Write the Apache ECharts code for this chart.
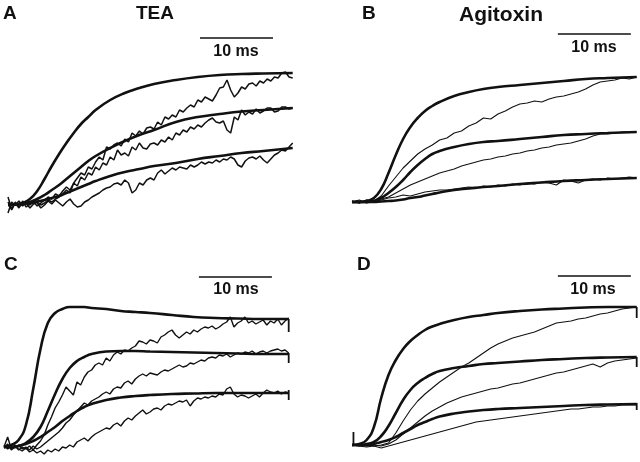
<!DOCTYPE html>
<html><head><meta charset="utf-8">
<script src="https://cdn.jsdelivr.net/npm/echarts@6/dist/echarts.min.js"></script>
<style>html,body{margin:0;padding:0;background:#fff}#c{width:640px;height:462px}</style>
</head><body><div id="c"></div><script>
// time samples (ms)
const tFit = [0,1,2,3,4,5,6,7,8,9,10,11,12,14,16,18,20,23,26,29,32,35,39];
const tHalf = [0,0.5,1,1.5,2,2.5,3,3.5,4,4.5,5,5.5,6,6.5,7,7.5,8,8.5,9,9.5,10,10.5,11,11.5,12,12.5,13,13.5,14,14.5,15,15.5,16,16.5,17,17.5,18,18.5,19,19.5,20,20.5,21,21.5,22,22.5,23,23.5,24,24.5,25,25.5,26,26.5,27,27.5,28,28.5,29,29.5,30,30.5,31,31.5,32,32.5,33,33.5,34,34.5,35,35.5,36,36.5,37,37.5,38,38.5,39];
const tOne = [0,1,2,3,4,5,6,7,8,9,10,11,12,13,14,15,16,17,18,19,20,21,22,23,24,25,26,27,28,29,30,31,32,33,34,35,36,37,38,39];

// Panel A (TEA) – model fits and recorded currents (arbitrary units)
const aFit1 = [0,0.5,2,6,14,26,39,51,62,72,81,88,95,105,112,117,121,125,128,130,131,131.5,132];
const aFit2 = [0,0.5,1.5,3,6,10,15,20,26,32,38,44,49,57,64,70,75,83,88,91,93.5,95,97];
const aFit3 = [0,0.5,1,2,3.5,5,7,9,12,15,18,21,24,29,33,36,39,42,46,49,52,54,57];
const aRec1 = [8,-4,3,-2,1,4,0,3,-1,2, 5,8,6,11,9,14,18,15,22,27, 32,30,38,36,43,48,45,58,56,60, 62,59,66,63,72,69,74,71,77,78, 76,83,80,88,86,90,88,95,93,97, 100,98,105,103,108,106,104,110,117,118, 125,115,108,112,118,116,121,122,119,124, 122,126,124,128,127,132,133,128,127];
const aRec2 = [-8,3,0,4,-1,2,-3,1,3,0, 2,5,3,6,8,11,15,12,22,19, 28,25,32,30,38,35,42,40,48,45, 55,50,52,49,58,55,62,57,56,61, 62,60,65,63,68,65,72,70,75,73, 78,76,80,78,82,85,87,83,82,84, 75,72,88,85,95,90,93,91,96,92, 94,97,97,93,94,98,98,96,97];
const aRec3 = [3,-5,2,-3,4,-2,1,5,2,-3, 0,4,1,5,2,-1,3,6,1,-2, -1,3,5,8,10,12,15,17,18,21, 22,20,25,22,12,15,22,20,25,27, 25,32,35,31,34,37,35,38,37,36, 40,38,40,43,41,43,42,45,43,46, 45,48,46,40,38,44,47,48,46,49, 45,42,46,50,52,55,54,58,62];

// Panel B (Agitoxin)
const bFit1 = [0,0,1,4,13,29,47,63,75,84,91,96,100,106,110,113,115,117,119,121,123,124,125];
const bFit2 = [0,0,0,1,4,9,15,22,30,37,43,48,51,55,58,60,61,63,65,67,68,69,70];
const bFit3 = [0,0,0,0,0.5,1,1.5,2.5,4,5,6.5,8,9.5,12,13.5,15,16,18,19.5,21,22,23,24];
const bRec1 = [1,-1,2,1,6,16,25,34,41,48,53,57,62,64,69,71,76,79,84,83,88,91,95,98,99,101,100,103,105,106,108,110,113,117,120,121,122,124,123,125];
const bRec2 = [0,2,-1,1,3,5,9,13,17,20,23,26,29,31,33,36,38,40,42,43,45,46,48,49,51,52,54,55,57,58,59,61,63,66,68,68,69,70,70,70];
const bRec3 = [1,-1,2,0,2,4,5,7,6,8,10,11,12,12,13,14,15,14,16,15,17,16,18,17,19,18,20,19,17,22,21,19,22,23,22,24,23,24,25,24];

// Panel C (TEA)
const cFit1 = [0,2,7,22,58,98,124,134,138,140,140,140,139,138,136,135,134,132,130,129,128.5,128,128];
const cFit2 = [0,0,1,4,10,20,36,53,68,79,86,90,93,95.5,96,96,95.5,95,94.5,94,93.5,93,93];
const cFit3 = [0,0,1,3,6,10,15,20,26,31,36,40,43,47,49.5,51,52,53,53.5,54,54,54,54];
const cRec1 = [0,10,-2,2,-3,0,-2,1,-3,2, 6,12,22,30,39,45,52,60,56,52, 65,62,70,75,77,82,84,82,89,86, 92,95,93,97,96,99,101,106,105,103, 107,106,104,110,112,115,117,112,109,112, 115,113,117,115,118,120,119,121,118,120, 123,125,130,120,124,126,130,124,126,123, 125,127,122,126,124,128,122,126,129];
const cRec2 = [2,-2,1,-1,2,-2,0,-3,1,-2, 0,3,6,9,12,15,19,24,27,32, 36,40,44,42,46,48,50,53,55,53, 58,60,59,64,66,63,68,71,73,71, 74,73,72,75,77,76,78,80,82,80, 81,84,83,85,87,86,89,90,89,92, 91,93,90,92,94,93,95,94,96,93, 95,96,94,96,97,98,96,97,94];
const cRec3 = [-1,3,-3,0,-2,-4,-1,-5,-3,-6, -4,-7,-3,-5,-2,-4,0,-1,2,0, 5,7,9,6,10,13,15,17,19,18, 22,24,21,26,29,27,31,34,37,33, 35,38,39,37,41,43,42,44,46,45, 47,41,46,49,48,50,49,51,50,53, 52,58,60,53,50,52,51,49,51,53, 50,54,57,55,54,56,53,55,54];
const cEndTicks = [[128,115],[94,84],[57,47]];

// Panel D (Agitoxin)
const dFit1 = [0,1,5,18,47,70,85,96,104,110,115,118.5,121,125,128,130,132,134,135.5,136.5,137.5,138,138];
const dFit2 = [0,0,1,3,9,19,32,45,55,62,67,71,74,77,79,81,82,83.5,85,86,87,87.5,88];
const dFit3 = [0,0,0,1,3,5,8,12,16,20,23,26,28.5,31.5,33.5,35,36,37,38,39,40,40.5,41];
const dRec1 = [0,-1,1,-1,0,2,12,24,35,44,51,57,63,68,73,78,82,87,92,97,101,104,107,109,111,113,116,119,122,123,124,126,127,129,131,132,134,136,137,138];
const dRec2 = [0,1,-1,0,-1,1,5,11,17,23,29,34,38,42,45,48,50,52,54,56,57,59,61,62,64,66,68,70,72,73,75,77,79,81,78,82,84,85,86,87];
const dRec3 = [0,-1,-2,-1,-3,-1,1,3,5,7,9,11,13,15,17,19,21,23,24,25,26,27,28,29,30,31,32,33,34,35,36,36,37,38,38,39,39,40,40,40];
const dEndTicks = [[138,127],[88,78],[42,35]];
const dStartTick = [13,0];

const panels = [
  {left:8,  top:25,  height:200, yMin:-20, yMax:180, fits:[aFit1,aFit2,aFit3], recs:[aRec1,aRec2,aRec3], tRec:tHalf, fitW:2.6, recW:1.5, bar:{t:26.3, amp:167}},
  {left:352,top:22,  height:200, yMin:-20, yMax:180, fits:[bFit1,bFit2,bFit3], recs:[bRec1,bRec2,bRec3], tRec:tOne, fitW:2.6, recW:1.1, bar:{t:28.2, amp:168}},
  {left:4,  top:267, height:195, yMin:-15, yMax:180, fits:[cFit1,cFit2,cFit3], recs:[cRec1,cRec2,cRec3], tRec:tHalf, fitW:2.6, recW:1.4, bar:{t:26.7, amp:170}, endTicks:cEndTicks},
  {left:352,top:265, height:195, yMin:-15, yMax:180, fits:[dFit1,dFit2,dFit3], recs:[dRec1,dRec2,dRec3], tRec:tOne, fitW:2.6, recW:1.1, bar:{t:28.2, amp:169}, endTicks:dEndTicks, startTick:dStartTick}
];

const zip = (t, v) => v.map((y, i) => [t[i], y]);
const INK = '#111';
const grid = [], xAxis = [], yAxis = [], series = [];
panels.forEach((p, i) => {
  grid.push({left:p.left, top:p.top, width:7.3*39, height:p.height});
  xAxis.push({type:'value', gridIndex:i, min:0, max:39, show:false});
  yAxis.push({type:'value', gridIndex:i, min:p.yMin, max:p.yMax, show:false});
  const base = {type:'line', xAxisIndex:i, yAxisIndex:i, showSymbol:false, silent:true, animation:false};
  p.recs.forEach(r => series.push(Object.assign({}, base, {data:zip(p.tRec, r), lineStyle:{color:INK, width:p.recW}})));
  p.fits.forEach(f => series.push(Object.assign({}, base, {data:zip(tFit, f), smooth:0.5, lineStyle:{color:INK, width:p.fitW}})));
  series.push(Object.assign({}, base, {data:[[p.bar.t, p.bar.amp],[p.bar.t+10, p.bar.amp]], lineStyle:{color:INK, width:1.6}}));
  (p.endTicks||[]).forEach(tk => series.push(Object.assign({}, base, {data:[[39,tk[0]],[39,tk[1]]], lineStyle:{color:INK, width:1.8}})));
  if (p.startTick) series.push(Object.assign({}, base, {data:[[0.2,p.startTick[0]],[0.2,p.startTick[1]]], lineStyle:{color:INK, width:1.8}}));
});

const FAM = 'Liberation Sans, Arial, Helvetica, sans-serif';
const txt = (x, y, s, size, align) => ({type:'text', x, y, silent:true,
  style:{text:s, fontFamily:FAM, fontWeight:'bold', fontSize:size, fill:INK, align:align||'left', verticalAlign:'middle'}});
const graphic = [
  txt(3, 14, 'A', 19), txt(155, 14, 'TEA', 19, 'center'),
  txt(362, 14, 'B', 19), txt(501, 15, 'Agitoxin', 21, 'center'),
  txt(4, 265, 'C', 19), txt(357, 265, 'D', 19),
  txt(236, 52, '10 ms', 16, 'center'), txt(594, 48, '10 ms', 16, 'center'),
  txt(236, 290, '10 ms', 16, 'center'), txt(593, 290, '10 ms', 16, 'center')
];

const chart = echarts.init(document.getElementById('c'), null, {renderer:'canvas'});
chart.setOption({animation:false, backgroundColor:'#fff', grid, xAxis, yAxis, series, graphic});
</script></body></html>
